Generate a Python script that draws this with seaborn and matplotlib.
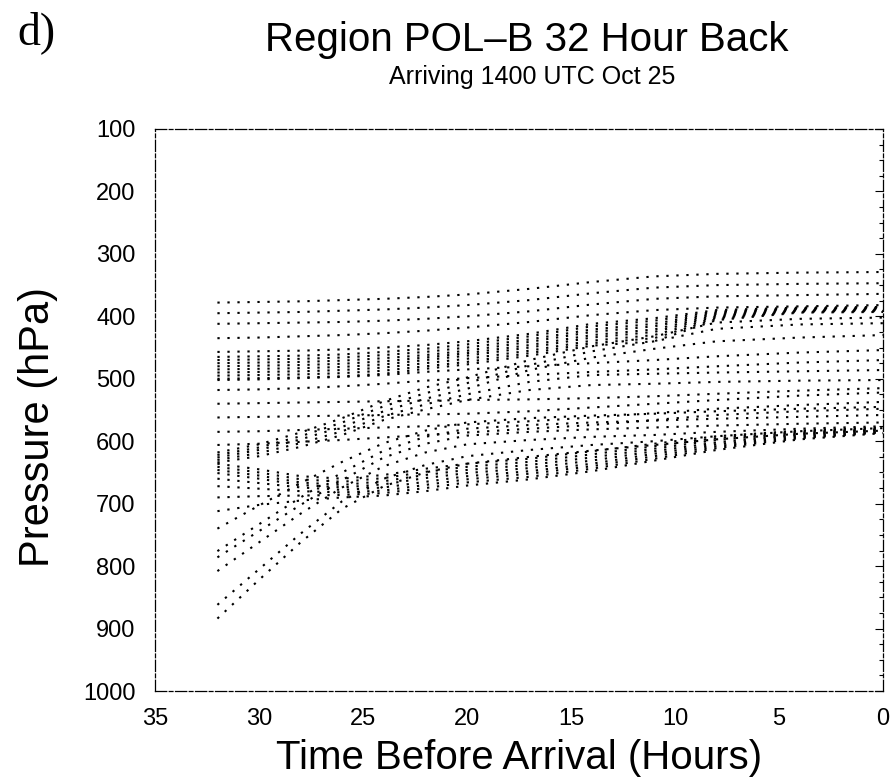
import pandas as pd
import matplotlib
matplotlib.use("Agg")
import matplotlib.pyplot as plt
import seaborn as sns
from matplotlib.ticker import MultipleLocator

# Hours before arrival at which each trajectory's pressure is sampled
hours = [32, 30, 28, 26, 24, 22, 20, 17, 14, 11, 8, 4, 0]

# Highest parcels: slow ascent from ~380-435 hPa
upper_paths = [
    [378, 377, 376, 374, 372, 369, 365, 356, 345, 336, 332, 330, 329],
    [395, 394, 393, 391, 389, 386, 382, 374, 363, 354, 350, 348, 347],
    [412, 411, 410, 409, 407, 404, 400, 392, 381, 372, 368, 366, 364],
    [435, 434, 432, 430, 427, 423, 418, 409, 398, 390, 386, 384, 382],
]

# Dense upper bundle: level near 460-500 hPa, lifting after hour 22
band_a_paths = [
    [457, 456, 455, 453, 450, 446, 440, 428, 412, 403, 390, 386, 385],
    [465, 464, 463, 461, 457, 452, 445, 432, 416, 407, 392, 387, 386],
    [470, 469, 468, 466, 462, 457, 450, 437, 421, 412, 394, 388, 387],
    [475, 474, 473, 471, 467, 462, 455, 441, 425, 416, 396, 389, 388],
    [480, 479, 478, 476, 472, 466, 459, 446, 430, 421, 398, 390, 389],
    [485, 484, 483, 481, 477, 470, 463, 450, 434, 425, 400, 391, 390],
    [490, 489, 488, 486, 482, 475, 468, 455, 439, 430, 402, 392, 391],
    [495, 494, 493, 491, 487, 480, 473, 459, 443, 435, 404, 393, 392],
    [500, 499, 498, 496, 492, 484, 477, 463, 447, 440, 406, 394, 393],
]

# Steep risers leaving the lower bundle early on
rising_paths = [
    [618, 605, 586, 563, 536, 514, 498, 470, 448, 432, 410, 404, 402],
    [622, 610, 592, 570, 544, 523, 507, 478, 456, 440, 420, 413, 411],
    [626, 614, 597, 577, 552, 532, 516, 486, 466, 452, 440, 434, 430],
    [630, 619, 603, 584, 560, 541, 525, 505, 494, 492, 490, 488, 486],
    [634, 624, 609, 590, 566, 549, 534, 518, 510, 508, 505, 503, 502],
]

# Mid-level parcels with gentle ascent
middle_paths = [
    [502, 501, 499, 497, 494, 489, 485, 480, 475, 470, 464, 458, 454],
    [518, 517, 515, 512, 508, 503, 499, 494, 489, 485, 480, 474, 470],
    [540, 539, 538, 537, 536, 535, 534, 533, 531, 528, 524, 519, 515],
    [562, 561, 560, 559, 558, 557, 556, 552, 546, 540, 534, 527, 522],
    [585, 584, 582, 580, 578, 576, 573, 568, 562, 555, 548, 542, 537],
    [606, 604, 601, 598, 594, 590, 586, 580, 574, 566, 558, 552, 548],
]

# Dense lower bundle, dipping near hour 26 before slow ascent
band_b_paths = [
    [636, 645, 656, 660, 654, 644, 636, 628, 616, 604, 592, 583, 578],
    [641, 650, 661, 665, 659, 649, 641, 633, 621, 608, 595, 585, 580],
    [646, 655, 666, 670, 664, 654, 646, 638, 626, 612, 598, 587, 581],
    [651, 660, 670, 674, 669, 659, 651, 643, 631, 616, 602, 589, 582],
    [660, 667, 674, 678, 674, 665, 656, 648, 636, 620, 605, 591, 584],
    [672, 676, 680, 682, 679, 670, 661, 652, 640, 624, 608, 593, 585],
    [690, 688, 687, 686, 683, 675, 666, 657, 644, 628, 611, 595, 586],
    [712, 702, 695, 690, 687, 680, 671, 661, 648, 631, 614, 597, 587],
]

# Parcels starting deep in the lower troposphere, climbing steeply
deep_paths = [
    [740, 703, 667, 633, 603, 583, 570, 563, 559, 556, 552, 548, 545],
    [776, 733, 690, 650, 615, 593, 580, 574, 570, 567, 564, 561, 558],
    [786, 744, 702, 662, 626, 604, 591, 585, 581, 578, 575, 572, 570],
    [808, 762, 716, 674, 640, 618, 605, 598, 593, 590, 585, 580, 576],
    [862, 805, 748, 696, 660, 638, 624, 614, 606, 600, 592, 584, 579],
    [884, 822, 762, 708, 672, 650, 636, 625, 615, 606, 597, 588, 583],
]

groups = {
    "upper": upper_paths,
    "band_a": band_a_paths,
    "rising": rising_paths,
    "middle": middle_paths,
    "band_b": band_b_paths,
    "deep": deep_paths,
}

rows = []
for name, paths in groups.items():
    for i, path in enumerate(paths):
        for h, p in zip(hours, path):
            rows.append((f"{name}_{i}", h, p))
traj = pd.DataFrame(rows, columns=["trajectory", "hours", "pressure"])

sns.set_theme(style="white")
plt.rcParams["font.family"] = ["Liberation Sans", "DejaVu Sans"]
plt.rcParams.update({
    "text.color": "black",
    "axes.labelcolor": "black",
    "xtick.color": "black",
    "ytick.color": "black",
})

fig = plt.figure(figsize=(8.96, 7.78), dpi=100)
W, H = 896, 778
left, right, top, bottom = 155, 883, 129, 691
ax = fig.add_axes([left / W, 1 - bottom / H, (right - left) / W, (bottom - top) / H])

sns.lineplot(
    data=traj, x="hours", y="pressure", units="trajectory", estimator=None,
    sort=False, color="black", linewidth=1.5, linestyle=(0, (1.1, 3.7)),
    legend=False, ax=ax,
)

ax.set_xlim(35, 0)
ax.set_ylim(1000, 100)
ax.set_xticks(range(35, -1, -5))
ax.set_yticks(range(100, 1001, 100))
ax.yaxis.set_minor_locator(MultipleLocator(25))
ax.tick_params(axis="both", which="both", direction="in", right=True,
               colors="black", labelcolor="black", width=0.8)
ax.tick_params(axis="both", which="major", length=6, labelsize=17)
ax.tick_params(axis="both", which="minor", length=3)
ax.tick_params(axis="y", which="major", pad=14)
ax.tick_params(axis="x", which="major", pad=12)

for spine in ax.spines.values():
    spine.set_color("black")
    spine.set_linewidth(0.9)
    spine.set_linestyle((0, (9, 2, 3, 2)))

ax.set_xlabel("Time Before Arrival (Hours)", fontsize=29, labelpad=7, color="black")
ax.set_ylabel("Pressure (hPa)", fontsize=30, color="black")
ax.yaxis.set_label_coords(-0.133, 0.47)

fig.text(527 / W, 1 - 40 / H, "Region POL–B 32 Hour Back", ha="center", va="center",
         fontsize=29, color="black")
fig.text(532 / W, 1 - 77 / H, "Arriving 1400 UTC Oct 25", ha="center", va="center",
         fontsize=18, color="black")
fig.text(17 / W, 1 - 11 / H, "d)", ha="left", va="top", fontsize=33, color="black",
         family=["Liberation Serif", "DejaVu Serif"])

fig.savefig("out.png", dpi=100)
